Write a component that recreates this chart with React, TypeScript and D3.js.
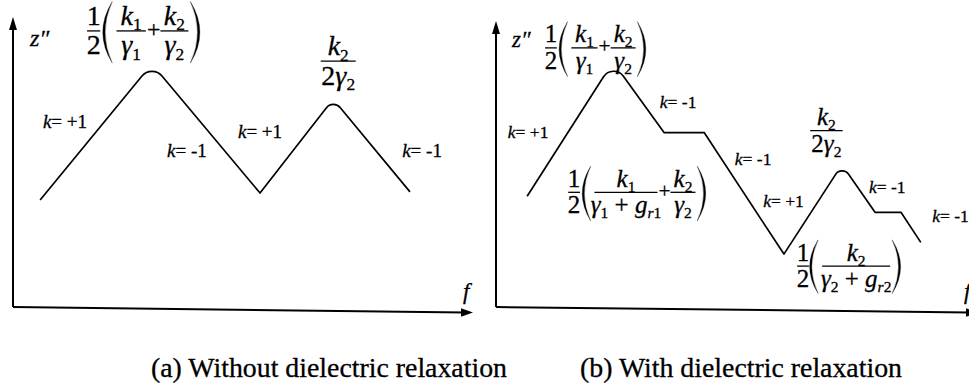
import React from "react";
import * as d3 from "d3";

const SERIF = "'Liberation Serif', 'Times New Roman', Times, serif";
const INK = { stroke: "#000", strokeWidth: 0.3 };

// relative units: x = log f, y = z'' (both 0..10)
// (a) without dielectric relaxation
const fA = [0.59, 3.02, 5.37, 6.96, 8.63];
const zA = [3.69, 8.38, 3.93, 7.17, 3.97];
const roundA = [0, 13, 0, 9, 0];
const slopeA = ["+1", "-1", "+1", "-1"];
const slopeFA = [0.65, 3.35, 4.89, 8.46];
const slopeZA = [6.17, 5.17, 5.83, 5.17];

// (b) with dielectric relaxation
const fB = [0.66, 2.48, 3.56, 4.41, 6.1, 7.33, 8.03, 8.58, 9.0];
const zB = [3.87, 8.57, 6.1, 6.1, 1.85, 4.98, 3.31, 3.31, 2.26];
const roundB = [0, 12, 0, 0, 0, 8, 0, 0, 0];
const slopeB = ["+1", "-1", "-1", "+1", "-1", "-1"];
const slopeFB = [0.25, 3.47, 5.06, 5.66, 7.9, 9.24];
const slopeZB = [5.92, 6.97, 4.95, 3.48, 3.97, 2.96];

const captions = ["(a) Without dielectric relaxation", "(b) With dielectric relaxation"];

// token flags: 1 = italic, 2 = subscript
type Tok = [string, number];
const K1: Tok[] = [["k", 1], ["1", 2]];
const K2: Tok[] = [["k", 1], ["2", 2]];
const G1: Tok[] = [["γ", 1], ["1", 2]];
const G2: Tok[] = [["γ", 1], ["2", 2]];
const G1R: Tok[] = [["γ", 1], ["1", 2], [" + ", 0], ["g", 1], ["r", 3], ["1", 2]];
const G2R: Tok[] = [["γ", 1], ["2", 2], [" + ", 0], ["g", 1], ["r", 3], ["2", 2]];
const TWO_G2: Tok[] = [["2", 0], ["γ", 1], ["2", 2]];
const ONE: Tok[] = [["1", 0]];
const TWO: Tok[] = [["2", 0]];

function MathText({ x, y, F, toks, anchor = "middle" }: any) {
  let inSub = false;
  const d = 0.2 * F;
  return (
    <text x={x} y={y} fontSize={F} fontFamily={SERIF} textAnchor={anchor} style={{ whiteSpace: "pre" }} {...INK}>
      {toks.map(([t, fl]: Tok, i: number) => {
        const sub = (fl & 2) > 0;
        const dy = sub === inSub ? 0 : sub ? d : -d;
        inSub = sub;
        return (
          <tspan key={i} dy={dy || undefined} fontStyle={fl & 1 ? "italic" : undefined} fontSize={sub ? 0.62 * F : undefined}>
            {t}
          </tspan>
        );
      })}
    </text>
  );
}

function Frac({ cx, axis, F, w, num, den }: any) {
  return (
    <g>
      <MathText x={cx} y={axis - 0.22 * F} F={F} toks={num} />
      <line x1={cx - w / 2} x2={cx + w / 2} y1={axis} y2={axis} stroke="#000" strokeWidth={1.3} />
      <MathText x={cx} y={axis + 0.84 * F} F={F} toks={den} />
    </g>
  );
}

function Paren({ x, w, top, bottom, right = false }: any) {
  const mid = (top + bottom) / 2;
  const p = d3.path();
  if (!right) {
    p.moveTo(x + w, top);
    p.quadraticCurveTo(x - w, mid, x + w, bottom);
    p.quadraticCurveTo(x - 0.5 * w, mid, x + w, top);
  } else {
    p.moveTo(x, top);
    p.quadraticCurveTo(x + 2 * w, mid, x, bottom);
    p.quadraticCurveTo(x + 1.5 * w, mid, x, top);
  }
  p.closePath();
  return <path d={p.toString()} fill="#000" stroke="#000" strokeWidth={0.3} />;
}

function Plus({ cx, axis, F }: any) {
  return <MathText x={cx} y={axis + 0.22 * F} F={0.85 * F} toks={[["+", 0]]} />;
}

// 1/2 ( k1/g1 + k2/g2 )
function SumFormula({ x0, axis, F, den1, w1 }: any) {
  const top = axis - 1.05 * F;
  const bot = axis + 1.15 * F;
  const a = x0 + 1.05 * F;
  const pc = a + w1 + 0.28 * F;
  const b = pc + 0.24 * F;
  return (
    <g>
      <Frac cx={x0 + 0.235 * F} axis={axis} F={F} w={0.47 * F} num={ONE} den={TWO} />
      <Paren x={x0 + 0.56 * F} w={0.34 * F} top={top} bottom={bot} />
      <Frac cx={a + w1 / 2} axis={axis} F={F} w={w1} num={K1} den={den1} />
      <Plus cx={pc} axis={axis} F={F} />
      <Frac cx={b + 0.5 * F} axis={axis} F={F} w={1.0 * F} num={K2} den={G2} />
      <Paren x={b + 1.07 * F} w={0.34 * F} top={top} bottom={bot} right />
    </g>
  );
}

// 1/2 ( k2 / (g2 + gr2) )
function SingleFormula({ x0, axis, F }: any) {
  const top = axis - 1.05 * F;
  const bot = axis + 1.1 * F;
  return (
    <g>
      <Frac cx={x0 + 0.235 * F} axis={axis} F={F} w={0.47 * F} num={ONE} den={TWO} />
      <Paren x={x0 + 0.5 * F} w={0.34 * F} top={top} bottom={bot} />
      <Frac cx={x0 + 2.36 * F} axis={axis} F={F} w={2.72 * F} num={K2} den={G2R} />
      <Paren x={x0 + 3.8 * F} w={0.34 * F} top={top} bottom={bot} right />
    </g>
  );
}

function Panel({ ox, oy, xEnd, arrowX, yTip, fs, zs, radii, slopes, sf, sz, kSize, children }: any) {
  const x = d3.scaleLinear().domain([0, 10]).range([ox, xEnd]);
  const y = d3.scaleLinear().domain([0, 10]).range([oy, yTip]);
  const pts = fs.map((f: number, i: number) => [x(f), y(zs[i])]);
  const p = d3.path();
  p.moveTo(pts[0][0], pts[0][1]);
  for (let i = 1; i < pts.length; i++) {
    if (radii[i] > 0 && i < pts.length - 1) p.arcTo(pts[i][0], pts[i][1], pts[i + 1][0], pts[i + 1][1], radii[i]);
    else p.lineTo(pts[i][0], pts[i][1]);
  }
  const drop = 5.5;
  return (
    <g>
      <line x1={ox} y1={oy} x2={ox} y2={yTip + 10} stroke="#000" strokeWidth={2} />
      <path d={`M${ox},${yTip} L${ox - 4},${yTip + 13} L${ox + 4},${yTip + 13} Z`} fill="#000" />
      <line x1={ox} y1={oy} x2={arrowX - 8} y2={oy + drop} stroke="#000" strokeWidth={2} />
      <path d={`M${arrowX},${oy + drop} L${arrowX - 12},${oy + drop - 4.3} L${arrowX - 12},${oy + drop + 4.3} Z`} fill="#000" />
      <path d={p.toString()} fill="none" stroke="#000" strokeWidth={1.7} strokeLinejoin="round" />
      {slopes.map((s: string, i: number) => (
        <text key={i} x={x(sf[i])} y={y(sz[i])} fontSize={kSize} fontFamily={SERIF} {...INK}>
          <tspan fontStyle="italic">k</tspan>
          {"= " + s}
        </text>
      ))}
      {children(x, y)}
    </g>
  );
}

export default function App() {
  return (
    <svg width={969} height={389} style={{ position: "absolute", left: 0, top: 0, background: "#fff" }}>
      <Panel ox={13} oy={307} xEnd={473} arrowX={473} yTip={17} fs={fA} zs={zA} radii={roundA} slopes={slopeA} sf={slopeFA} sz={slopeZA} kSize={19}>
        {(x: any, y: any) => (
          <g>
            <text x={30} y={46} fontSize={24} fontFamily={SERIF} fontStyle="italic" {...INK}>z″</text>
            <text x={463} y={299} fontSize={23} fontFamily={SERIF} fontStyle="italic" {...INK}>f</text>
            <SumFormula x0={x(1.61)} axis={y(9.52)} F={28} den1={G1} w1={1.05 * 28} />
            <Frac cx={x(7.07)} axis={y(8.48)} F={28} w={1.25 * 28} num={K2} den={TWO_G2} />
          </g>
        )}
      </Panel>
      <Panel ox={496} oy={307} xEnd={968} arrowX={978} yTip={21} fs={fB} zs={zB} radii={roundB} slopes={slopeB} sf={slopeFB} sz={slopeZB} kSize={17.5}>
        {(x: any, y: any) => (
          <g>
            <text x={512} y={47} fontSize={23} fontFamily={SERIF} fontStyle="italic" {...INK}>z″</text>
            <text x={964} y={299} fontSize={23} fontFamily={SERIF} fontStyle="italic" {...INK}>f</text>
            <SumFormula x0={x(1.04)} axis={y(9.06)} F={25} den1={G1} w1={1.05 * 25} />
            <SumFormula x0={x(1.53)} axis={y(4.01)} F={25} den1={G1R} w1={2.52 * 25} />
            <SingleFormula x0={x(6.38)} axis={y(1.43)} F={25} />
            <Frac cx={x(7.0)} axis={y(6.17)} F={25} w={1.3 * 25} num={K2} den={TWO_G2} />
          </g>
        )}
      </Panel>
      <text x={329} y={377} fontSize={27.7} fontFamily={SERIF} textAnchor="middle" textLength={356} lengthAdjust="spacingAndGlyphs" {...INK}>
        {captions[0]}
      </text>
      <text x={741} y={377} fontSize={27.7} fontFamily={SERIF} textAnchor="middle" textLength={322} lengthAdjust="spacingAndGlyphs" {...INK}>
        {captions[1]}
      </text>
    </svg>
  );
}
